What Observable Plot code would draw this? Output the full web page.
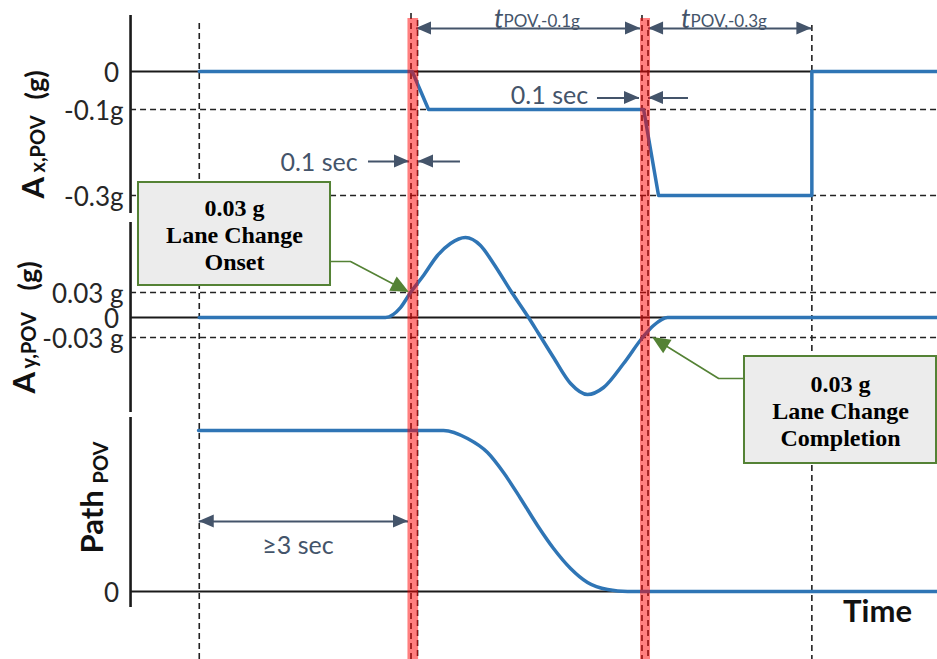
<!DOCTYPE html>
<html>
<head>
<meta charset="utf-8">
<script src="https://cdn.jsdelivr.net/npm/d3@7"></script>
<script src="https://cdn.jsdelivr.net/npm/@observablehq/plot@0.6"></script>
<style>
  html, body { margin: 0; padding: 0; background: #fff; }
  svg { display: block; }
</style>
</head>
<body>
<div id="chart"></div>
<script>
// ---------------- DATA (time in seconds, relative to lane-change onset) ----------------
const axTime  = [-3.0, 0.0, 0.23, 3.26, 3.47, 5.63, 5.63, 7.4];
const axValue = [0, 0, -0.1, -0.1, -0.3, -0.3, 0, 0];

const ayTime  = [-3.0, -0.376, -0.165, -0.024, 0.159, 0.356, 0.539, 0.750, 0.962, 1.145, 1.385,
                 1.639, 1.780, 1.991, 2.231, 2.470, 2.696, 2.978, 3.245, 3.400, 3.597, 7.4];
const ayValue = [0, 0, 0.0119, 0.03, 0.0504, 0.0744, 0.0888, 0.096, 0.0864, 0.0648, 0.0324,
                 0, -0.024, -0.06, -0.099, -0.1155, -0.105, -0.069, -0.03, -0.012, 0, 0];

const pathTime  = [-3.01, 0.441, 0.779, 1.061, 1.286, 1.526, 1.765, 1.991, 2.231, 2.470, 2.752, 3.034, 7.4];
const pathValue = [1, 1, 0.950, 0.863, 0.739, 0.578, 0.410, 0.267, 0.143, 0.056, 0.012, 0, 0];

const axTickValues   = [0, -0.1, -0.3];
const axTickLabels   = ["0", "-0.1g", "-0.3g"];
const ayTickValues   = [0.03, 0, -0.03];
const ayTickLabels   = ["0.03 g", "0", "-0.03 g"];
const pathTickValues = [0];
const pathTickLabels = ["0"];

const eventNames = ["start", "onset", "completion", "end"];
const eventTimes = [-3.0, 0.0, 3.24, 5.63];

const timeLabel = "Time";
const onsetLines = ["0.03 g", "Lane Change", "Onset"];
const completionLines = ["0.03 g", "Lane Change", "Completion"];

// ---------------- LAYOUT ----------------
const W = 937, H = 659;
const xs = d3.scaleLinear([-5.8, 7.4], [0, W]);          // seconds -> px
const tAxis = -3.968, tRight = 7.4;
const axRow   = d3.scaleLinear([0, -0.1, -0.3], [71, 109, 195]);
const ayRow   = d3.scaleLinear([0.03, 0, -0.03], [292, 317, 337]);
const pathRow = d3.scaleLinear([0, 1], [591, 430]);
const panelSpans = [[15, 213], [222, 412], [417, 607]];

const BLUE = "#2f75b5", SLATE = "#44546a", GREEN = "#548235", INK = "#1a1a1a";
const [tStart, tOnset, tComplete, tEnd] = eventTimes;

const axData = axTime.map((t, i) => ({t, y: axRow(axValue[i])}));
const ayData = ayTime.map((t, i) => ({t, y: ayRow(ayValue[i])}));
const pathData = pathTime.map((t, i) => ({t, y: pathRow(pathValue[i])}));

const tickData = [
  ...axTickValues.map((v, i) => ({label: axTickLabels[i], y: axRow(v)})),
  ...ayTickValues.map((v, i) => ({label: ayTickLabels[i], y: ayRow(v)})),
  ...pathTickValues.map((v, i) => ({label: pathTickLabels[i], y: pathRow(v)}))
].map(d => ({...d, t: d.label === "0" ? -4.13 : -4.067, y: d.y + 2}));

const hDashed = [axRow(-0.1), axRow(-0.3), ayRow(0.03), ayRow(-0.03)];
const vDashed = [
  {t: tStart, y1: 23}, {t: tOnset - 0.017, y1: 13}, {t: tOnset + 0.075, y1: 20},
  {t: tComplete - 0.003, y1: 15}, {t: tComplete + 0.082, y1: 20}, {t: tEnd, y1: 25}
];
const bands = [
  {t1: tOnset - 0.06, t2: tOnset + 0.09},
  {t1: tComplete - 0.024, t2: tComplete + 0.117}
];

// dimension arrows: heads at "s" (start, pointing left) and/or "e" (end, pointing right)
const dims = [
  {y: 28,   t1: tOnset + 0.06,    t2: tComplete - 0.024, heads: "se"},
  {y: 28,   t1: tComplete + 0.09, t2: tEnd,              heads: "se"},
  {y: 97.5, t1: 2.61,             t2: 3.202,             heads: "e"},
  {y: 97.5, t1: 3.329,            t2: 3.892,             heads: "s"},
  {y: 161,  t1: -0.616,           t2: -0.038,            heads: "e"},
  {y: 161,  t1: 0.089,            t2: 0.68,              heads: "s"},
  {y: 521,  t1: tStart,           t2: -0.052,            heads: "se"}
];

function head(id, tTip, yTip, dx, dy, len, half) {
  const X = xs(tTip), Y = yTip;
  const bx = X - dx * len, by = Y - dy * len;
  const px = -dy * half, py = dx * half;
  return [
    {id, x1: tTip, y1: Y, x2: tTip, y2: Y},
    {id, x1: xs.invert(bx + px), y1: by + py, x2: xs.invert(bx - px), y2: by - py}
  ];
}
const dimHeads = [];
dims.forEach((d, i) => {
  if (d.heads.includes("s")) dimHeads.push(...head("s" + i, d.t1, d.y, -1, 0, 15, 6.5));
  if (d.heads.includes("e")) dimHeads.push(...head("e" + i, d.t2, d.y, 1, 0, 15, 6.5));
});

// callouts
const boxes = [
  {t1: -3.856, t2: -1.151, y1: 182, y2: 285, tc: -2.504, rows: [208, 235, 262], lines: onsetLines,
   leader: [{t: -1.151, y: 261}, {t: -0.869, y: 261}], tip: {t: -0.04, y: ayRow(0.03)}},
  {t1: 4.681, t2: 7.386, y1: 356, y2: 463, tc: 6.034, rows: [384, 411, 438], lines: completionLines,
   leader: [{t: 4.681, y: 378}, {t: 4.317, y: 378}], tip: {t: 3.386, y: ayRow(-0.03)}}
];
const leaderData = [], greenHeads = [], boxText = [];
boxes.forEach((b, i) => {
  const last = b.leader[b.leader.length - 1];
  const dxp = xs(b.tip.t) - xs(last.t), dyp = b.tip.y - last.y;
  const L = Math.hypot(dxp, dyp), ux = dxp / L, uy = dyp / L;
  b.leader.forEach(p => leaderData.push({id: i, t: p.t, y: p.y}));
  leaderData.push({id: i, t: xs.invert(xs(b.tip.t) - ux * 8), y: b.tip.y - uy * 8});
  greenHeads.push(...head("g" + i, b.tip.t, b.tip.y, ux, uy, 18, 8));
  b.lines.forEach((s, j) => boxText.push({t: b.tc, y: b.rows[j], s}));
});

const subLabels = [
  {t: 1.286, y: 19, main: "t", sub: "POV,-0.1g"},
  {t: 3.920, y: 19, main: "t", sub: "POV,-0.3g"}
];
const durationText = [
  {t: 1.934, y: 95, s: "0.1 sec"},
  {t: -1.313, y: 162, s: "0.1 sec"},
  {t: -1.609, y: 545, s: "≥3 sec"}
];

// rotated axis titles (pieces read bottom-to-top)
const titleBig = [
  {t: -5.328, y: 198, s: "A"},
  {t: -5.46, y: 393, s: "A"},
  {t: -4.50, y: 553, s: "Path"}
];
const titleParen = [
  {t: -5.30, y: 99, s: "(g)"},
  {t: -5.40, y: 290, s: "(g)"}
];
const titleSmall = [
  {t: -5.27, y: 172, s: "x,POV"},
  {t: -5.39, y: 368, s: "y,POV"},
  {t: -4.37, y: 483, s: "POV"}
];

const chart = Plot.plot({
  width: W, height: H, margin: 0,
  x: {domain: xs.domain(), range: xs.range(), axis: null},
  y: {domain: [0, H], range: [0, H], axis: null},
  style: {fontFamily: "Lato, 'Open Sans', sans-serif", background: "#fff", overflow: "visible"},
  marks: [
    // panel axes
    Plot.ruleX(panelSpans, {x: () => tAxis, y1: d => d[0], y2: d => d[1], stroke: INK, strokeWidth: 2.6}),
    // zero lines
    Plot.ruleY([axRow(0), ayRow(0), pathRow(0)], {y: d => d, x1: () => tAxis, x2: () => tRight, stroke: INK, strokeWidth: 2}),
    // dashed reference levels
    Plot.ruleY(hDashed, {y: d => d, x1: () => tAxis, x2: () => tRight, stroke: "#222", strokeWidth: 1.6, strokeDasharray: "6,4"}),
    // dashed event lines
    Plot.ruleX(vDashed, {x: "t", y1: "y1", y2: () => H, stroke: "#222", strokeWidth: 1.6, strokeDasharray: "6,4"}),
    // signals
    Plot.line(axData, {x: "t", y: "y", stroke: BLUE, strokeWidth: 3.5}),
    Plot.line(ayData, {x: "t", y: "y", stroke: BLUE, strokeWidth: 3.5, curve: "monotone-x"}),
    Plot.line(pathData, {x: "t", y: "y", stroke: BLUE, strokeWidth: 3.5, curve: "monotone-x"}),
    // tick labels
    Plot.text(tickData, {x: "t", y: "y", text: "label", textAnchor: "end", fontSize: 26, fill: "#262626"}),
    // dimension arrows
    Plot.ruleY(dims, {y: "y", x1: "t1", x2: "t2", stroke: SLATE, strokeWidth: 1.8}),
    Plot.area(dimHeads, {x1: "x1", y1: "y1", x2: "x2", y2: "y2", z: "id", fill: SLATE}),
    Plot.text(durationText, {x: "t", y: "y", text: "s", fontSize: 25, fill: SLATE}),
    Plot.text(subLabels, {x: "t", y: "y", text: "main", textAnchor: "end", fontSize: 27, fontStyle: "italic", fill: SLATE}),
    Plot.text(subLabels, {x: "t", y: d => d.y + 2, text: "sub", textAnchor: "start", fontSize: 17, fill: SLATE}),
    // red event bands
    Plot.rect(bands, {x1: "t1", x2: "t2", y1: () => 18, y2: () => H, fill: "#ff0000", fillOpacity: 0.5}),
    // axis titles
    Plot.text(titleBig, {x: "t", y: "y", text: "s", rotate: -90, textAnchor: "start", fontSize: 31, fontWeight: "bold", fill: "#111"}),
    Plot.text(titleParen, {x: "t", y: "y", text: "s", rotate: -90, textAnchor: "start", fontSize: 27, fontWeight: "bold", fill: "#111"}),
    Plot.text(titleSmall, {x: "t", y: "y", text: "s", rotate: -90, textAnchor: "start", fontSize: 20, fontWeight: "bold", fill: "#111"}),
    Plot.text([timeLabel], {x: () => 6.555, y: () => 612, text: d => d, fontSize: 31, fontWeight: "bold", fill: "#111"}),
    // callouts
    Plot.line(leaderData, {x: "t", y: "y", z: "id", stroke: GREEN, strokeWidth: 1.6}),
    Plot.area(greenHeads, {x1: "x1", y1: "y1", x2: "x2", y2: "y2", z: "id", fill: GREEN}),
    Plot.rect(boxes, {x1: "t1", x2: "t2", y1: "y1", y2: "y2", fill: "#ececec", stroke: GREEN, strokeWidth: 2}),
    Plot.text(boxText, {x: "t", y: "y", text: "s", fontFamily: "'Liberation Serif', serif", fontWeight: "bold", fontSize: 24, fill: "#000"})
  ]
});
document.getElementById("chart").appendChild(chart);
</script>
</body>
</html>
